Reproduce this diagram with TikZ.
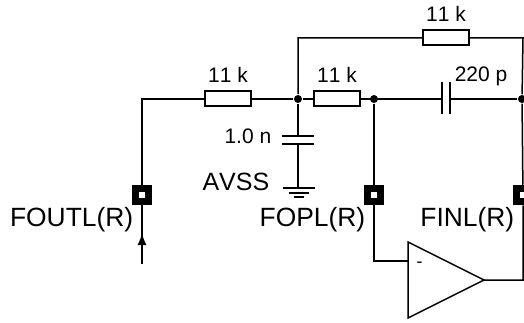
\documentclass[tikz,border=0pt]{standalone}
\usepackage{fontspec}
\setmainfont[Kerning=Off]{Liberation Sans}
\usetikzlibrary{arrows.meta}
\tikzset{
    resistor/.style={draw, line width=2pt, fill=white, minimum width=46pt, minimum height=15pt, inner sep=0pt},
    dot/.style={circle, fill=black, inner sep=0pt, minimum size=8pt},
    pin/.style={draw=black, line width=7.5pt, fill=white, minimum size=13pt, inner sep=0pt},
    val/.style={font=\fontsize{21}{24}\selectfont, inner sep=0pt},
    pinlabel/.style={font=\fontsize{26.4}{30}\selectfont, inner sep=0pt},
}
\begin{document}
\begin{tikzpicture}[>={Latex[length=12pt,width=9pt]}, x=1pt, y=-1pt, line width=1.5pt]
    \useasboundingbox (0,0) rectangle (524,323);
% junctions
    \node[dot] (jl) at (298,99) {};
    \node[dot] (jm) at (374,99) {};
    \node[dot] (jr) at (522,99) {};
% pins
    \node[pin] (foutl) at (142,195) {};
    \node[pin] (fopl) at (374,195) {};
    \node[pin] (finl) at (523,195) {};
% wires
    \coordinate (c1) at (142,99);
    \coordinate (c2) at (298,38);
    \coordinate (c3) at (523,38);
    \coordinate (in) at (142,264);
    \coordinate (m) at (374,261);
    \coordinate (minus) at (408,261);
    \coordinate (tip) at (484,280);
    \coordinate (o) at (523,280);
    \coordinate (gnd) at (298,188);
    \draw (foutl)--(c1)--(jl)--(jr);
    \draw (jl)--(c2)--(c3)--(jr)--(finl)--(o)--(tip);
    \draw (jm)--(fopl)--(m)--(minus);
    \draw (jl)--(gnd);
    \draw (in)--(foutl);
    \draw[->] (142,246)--(142,233);
% resistors
    \node[resistor] (r1) at (228,99) {};
    \node[resistor] (r2) at (337,99) {};
    \node[resistor] (r3) at (446,38) {};
    \node[val,above=7pt] at (r1.north) {11 k};
    \node[val,above=7pt] at (r2.north) {11 k};
    \node[val,above=7pt] at (r3.north) {11 k};
% capacitors
    \fill[white] (443,90) rectangle (450,108);
    \draw[line width=2pt] (442,82)--(442,114) (450,82)--(450,114);
    \fill[white] (290,137) rectangle (306,144);
    \draw[line width=2pt] (282,136)--(314,136) (282,144)--(314,144);
    \node[val,anchor=west] at (454,76) {220 p};
    \node[val,anchor=east] at (272,136) {1.0 n};
% ground
    \draw (283,188)--(315,188) (289,193)--(309,193) (294,197)--(304,197);
% amplifier
    \draw[fill=white] (408,242)--(484,280)--(408,318)--cycle;
    \node[font=\fontsize{18}{18}\selectfont, inner sep=0pt] at (419.5,265) {-};
% pin names
    \node[pinlabel,anchor=east] at (134,220) {FOUTL(R)};
    \node[pinlabel,anchor=east] at (366,220) {FOPL(R)};
    \node[pinlabel,anchor=east] at (515,220) {FINL(R)};
    \node[pinlabel,font=\fontsize{25}{30}\selectfont,anchor=east] at (270,182) {AVSS};
\end{tikzpicture}
\end{document}
